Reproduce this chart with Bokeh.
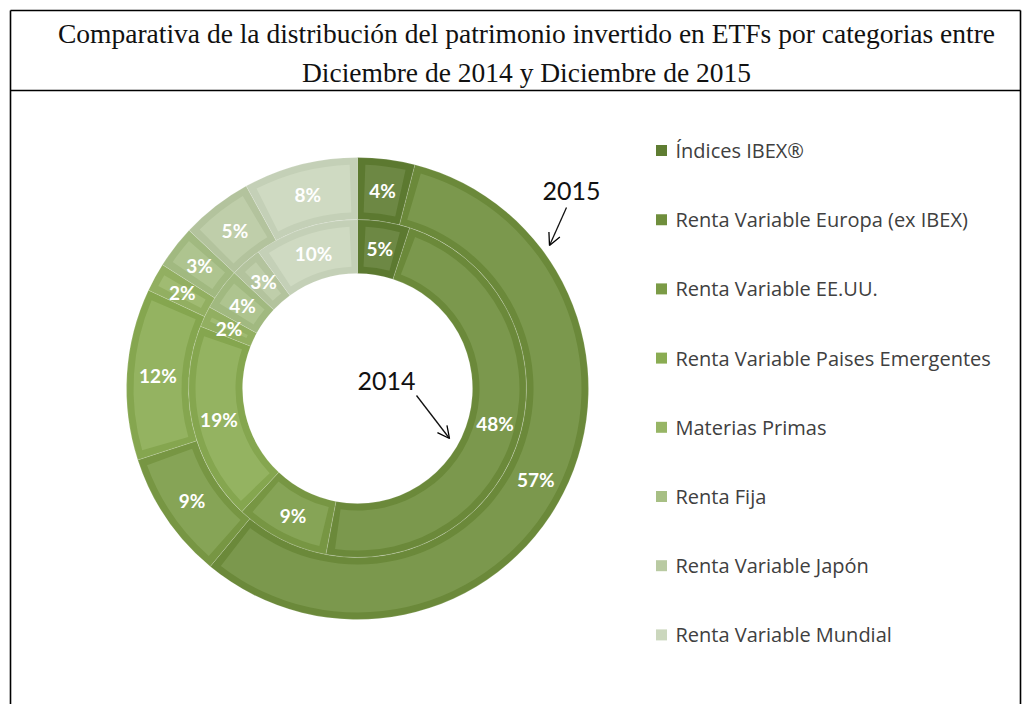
import math
from bokeh.plotting import figure
from bokeh.models import Range1d, Arrow, OpenHead, ColumnDataSource
from bokeh.core.properties import value
from bokeh.embed import file_html
from bokeh.resources import INLINE

categories = ["Índices IBEX®", "Renta Variable Europa (ex IBEX)", "Renta Variable EE.UU.",
              "Renta Variable Paises Emergentes", "Materias Primas", "Renta Fija",
              "Renta Variable Japón", "Renta Variable Mundial"]
values_2014 = [5, 48, 9, 19, 2, 4, 3, 10]
values_2015 = [4, 57, 9, 12, 2, 3, 5, 8]
colors = ["#5f7d32", "#6f8e3c", "#7b9b46", "#8aac52", "#97b565", "#a7bf84", "#b9caa2", "#cbd7bd"]
title_lines = ["Comparativa de la distribución del patrimonio invertido en ETFs por categorias entre",
               "Diciembre de 2014 y Diciembre de 2015"]

W, H = 1024, 704
p = figure(width=W, height=H, output_backend="svg", toolbar_location=None,
           x_range=Range1d(0, W), y_range=Range1d(0, H),
           x_axis_type=None, y_axis_type=None, min_border=0,
           outline_line_color=None)
p.grid.visible = False
p.background_fill_color = "white"
p.border_fill_color = "white"


def lighten(hexc, f):
    r, g, b = int(hexc[1:3], 16), int(hexc[3:5], 16), int(hexc[5:7], 16)
    r = int(r + (255 - r) * f); g = int(g + (255 - g) * f); b = int(b + (255 - b) * f)
    return "#%02x%02x%02x" % (r, g, b)


def darken(hexc, f):
    r, g, b = int(hexc[1:3], 16), int(hexc[3:5], 16), int(hexc[5:7], 16)
    return "#%02x%02x%02x" % (int(r * (1 - f)), int(g * (1 - f)), int(b * (1 - f)))


cx, cy = 357, 316
r_hole, r_mid, r_out = 115, 169, 231
frame = 7


def ring(vals, r0, r1):
    total = float(sum(vals))
    cum = 0.0
    starts, ends, mids = [], [], []
    for v in vals:
        a_start = math.pi / 2 - 2 * math.pi * cum / total
        cum += v
        a_end = math.pi / 2 - 2 * math.pi * cum / total
        starts.append(a_end)
        ends.append(a_start)
        mids.append((a_start + a_end) / 2)
    rm = (r0 + r1) / 2
    d = frame / rm
    src_outer = ColumnDataSource(dict(s=starts, e=ends, c=[darken(c, 0.03) for c in colors]))
    p.annular_wedge(x=cx, y=cy, inner_radius=r0, outer_radius=r1, start_angle="s", end_angle="e",
                    fill_color="c", line_color="white", line_alpha=0.2, line_width=0.8, source=src_outer)
    src_in = ColumnDataSource(dict(s=[s + d for s in starts], e=[e - d for e in ends],
                                   c=[lighten(c, 0.09) for c in colors]))
    p.annular_wedge(x=cx, y=cy, inner_radius=r0 + frame, outer_radius=r1 - frame,
                    start_angle="s", end_angle="e", fill_color="c", line_color=None, source=src_in)
    lab = ColumnDataSource(dict(x=[cx + rm * math.cos(m) for m in mids],
                                y=[cy + rm * math.sin(m) for m in mids],
                                t=["%d%%" % v for v in vals]))
    p.text(x="x", y="y", text="t", source=lab, text_color="white", text_font=value("Lato"),
           text_font_style="bold", text_font_size="19px", text_align="center", text_baseline="middle")


ring(values_2014, r_hole, r_mid)
ring(values_2015, r_mid, r_out)

# box and title separator
p.line(x=[10, 10], y=[0, 694], line_color="black", line_width=1.6)
p.line(x=[1020, 1020], y=[0, 694], line_color="black", line_width=1.6)
p.line(x=[10, 1020], y=[694, 694], line_color="black", line_width=1.6)
p.line(x=[10, 1020], y=[614, 614], line_color="black", line_width=1.6)

p.text(x=[526, 526], y=[671, 632], text=title_lines, text_font=value("Liberation Serif"),
       text_font_size="27.5px", text_color="#111111", text_align="center", text_baseline="middle")

# legend
leg_y = [554 - i * 69.2 for i in range(len(categories))]
p.rect(x=[661] * len(categories), y=leg_y, width=11, height=11, fill_color=colors, line_color=None)
p.text(x=[675] * len(categories), y=leg_y, text=categories, text_font=value("Open Sans"),
       text_font_size="20px", text_color="#404040", text_align="left", text_baseline="middle")

# year annotations
p.text(x=[571, 386], y=[514, 324], text=["2015", "2014"], text_font=value("Lato"),
       text_font_size="25px", text_color="#111111", text_align="center", text_baseline="middle")
p.add_layout(Arrow(end=OpenHead(size=12, line_width=1.3), x_start=566, y_start=497, x_end=549, y_end=459,
                   line_width=1.3, line_color="#111111"))
p.add_layout(Arrow(end=OpenHead(size=12, line_width=1.3), x_start=416, y_start=309, x_end=449, y_end=266,
                   line_width=1.3, line_color="#111111"))

open("out.html", "w").write(file_html(p, INLINE))
